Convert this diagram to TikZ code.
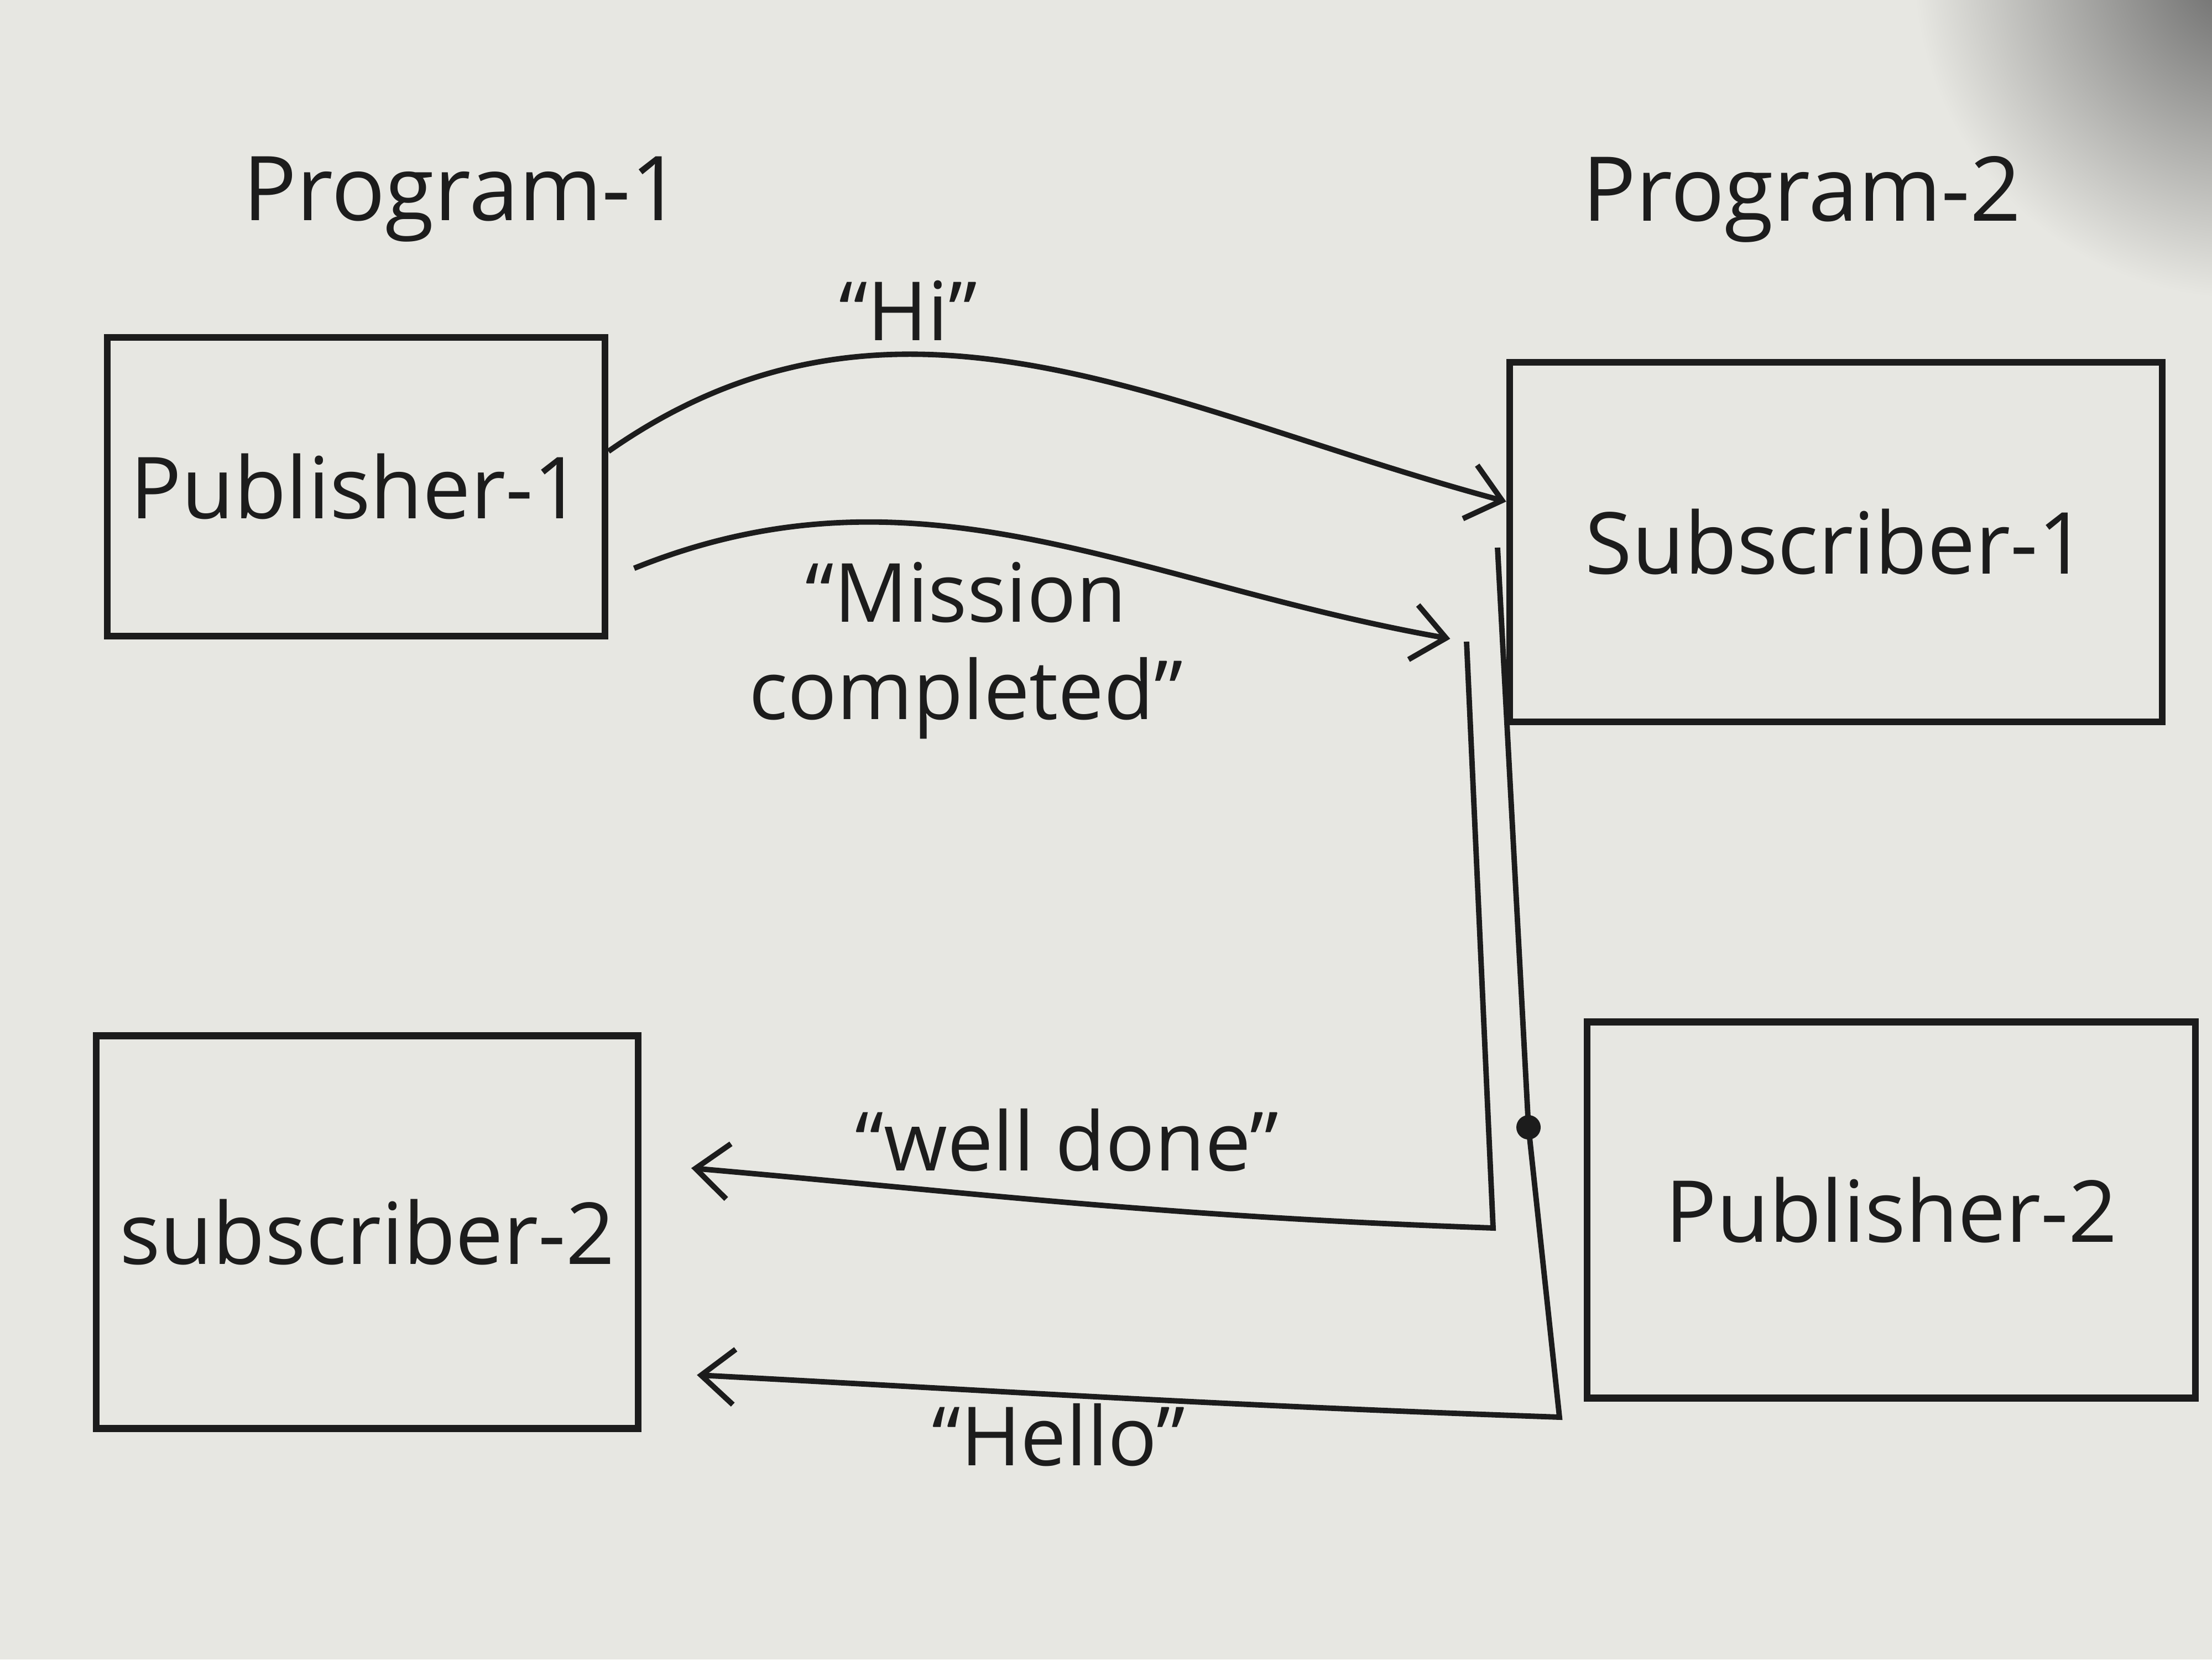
\documentclass[tikz,border=0pt]{standalone}
\usepackage{fontspec}
\setmainfont{Open Sans}
\usetikzlibrary{positioning}
\usetikzlibrary{arrows.meta}
\definecolor{paper}{HTML}{E7E7E2}
\definecolor{ink}{HTML}{1C1C1C}
\tikzset{
  % A program part: a plain box with its name
  part/.style 2 args={
    draw=ink, line width=1.8pt, rectangle, align=center,
    font=\fontsize{22}{26}\selectfont, text=ink, inner sep=4pt,
    minimum width=#1, minimum height=#2},
  % Program titles over each column
  title/.style={font=\fontsize{23}{27}\selectfont, text=ink},
  % Messages and plain wires
  msg/.style={-{Straight Barb[length=3mm, width=5mm]}, draw=ink, line width=1.4pt},
  lbl/.style={font=\fontsize{21}{25}\selectfont, text=ink, inner sep=1.5pt, align=center},
  joint/.style={circle, fill=ink, inner sep=0pt, minimum size=2.2mm},
}
\begin{document}
\begin{tikzpicture}

\fill[paper] (0,0) rectangle (20,15);
\begin{scope}
  \clip (0,0) rectangle (20,15);
  \shade[inner color=black!60, outer color=paper] (20.3,15.3) circle (3cm);
\end{scope}
\useasboundingbox (0,0) rectangle (20,15);

\node[title] (prog1) at (4.18,13.2) {Program-1};
\node[title] (prog2) at (16.29,13.2) {Program-2};

\node[part={4.5cm}{2.7cm}] (pub1) at (3.22,10.6) {Publisher-1};
\node[part={5.9cm}{3.25cm}] (sub1) at (16.6,10.1) {Subscriber-1};
\node[part={4.9cm}{3.55cm}, below=3.55cm of pub1, xshift=1mm] (sub2) {subscriber-2};
\node[part={5.5cm}{3.4cm}, below=2.65cm of sub1, xshift=5mm] (pub2) {Publisher-2};

\coordinate (turn) at (13.26,9.2);
\coordinate (wdcorner) at (13.5,3.9);
\coordinate (htop) at (13.54,10.05);
\coordinate (hbot) at (14.1,2.19);
\node[joint] (hjoin) at (13.82,4.81) {};

\draw[msg] (pub1.8) to[out=35,in=165]
  node[lbl, pos=0.35, above=0.5mm] {“Hi”} (sub1.173);
\draw[msg, shorten <=2.5mm, shorten >=1.5mm] (pub1.-20) to[out=22,in=170]
  node[lbl, pos=0.42, below=2mm] {“Mission\\completed”} (turn);
\draw[msg, shorten >=4.5mm] (turn) -- (wdcorner) to[out=178,in=-5]
  node[lbl, pos=0.5, above=2mm] {“well done”} (sub2.14);
\draw[msg, shorten >=5mm] (htop) -- (hjoin.center) -- (hbot) to[out=178,in=-3]
  node[lbl, pos=0.55, below=0mm] {“Hello”} (sub2.-27);

\end{tikzpicture}
\end{document}
